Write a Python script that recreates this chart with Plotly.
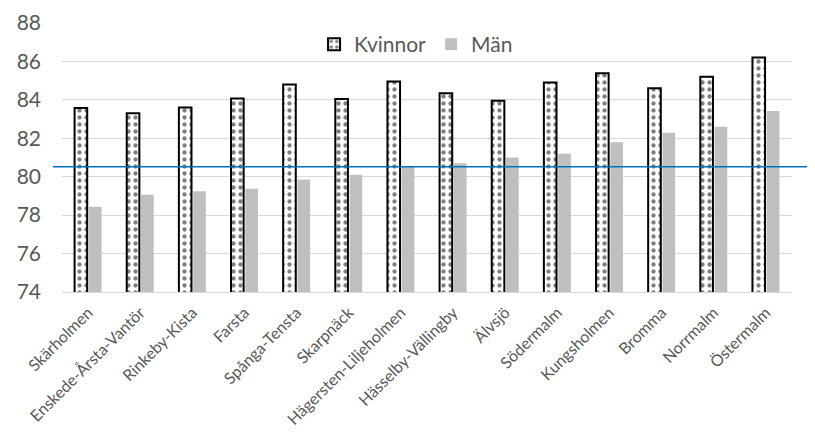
import plotly.graph_objects as go

categories = ["Skärholmen", "Enskede-Årsta-Vantör", "Rinkeby-Kista", "Farsta", "Spånga-Tensta",
              "Skarpnäck", "Hägersten-Liljeholmen", "Hässelby-Vällingby", "Älvsjö", "Södermalm",
              "Kungsholmen", "Bromma", "Norrmalm", "Östermalm"]
kvinnor = [83.58, 83.3, 83.6, 84.07, 84.8, 84.05, 84.95, 84.35, 83.95, 84.9, 85.38, 84.6, 85.2, 86.2]
man = [78.44, 79.06, 79.24, 79.38, 79.85, 80.1, 80.5, 80.7, 81.0, 81.2, 81.79, 82.29, 82.6, 83.42]
y_ticks = [74, 76, 78, 80, 82, 84, 86, 88]
ref_line = 80.52
y_min, y_max = 74, 88

font_family = "Lato, 'Open Sans', sans-serif"

fig = go.Figure()
fig.add_trace(go.Bar(
    name="Kvinnor", x=categories, y=kvinnor,
    marker=dict(color="white",
                line=dict(color="black", width=2),
                pattern=dict(shape=".", fgcolor="black", bgcolor="white", size=7, solidity=0.3)),
))
fig.add_trace(go.Bar(
    name="Män", x=categories, y=man,
    marker=dict(color="#bfbfbf", line=dict(width=0)),
))

ref_pos = (ref_line - y_min) / (y_max - y_min)
fig.add_shape(type="line", xref="paper", yref="paper",
              x0=-0.0125, x1=1.05, y0=ref_pos, y1=ref_pos,
              line=dict(color="#0070c0", width=1.5), layer="above")

fig.update_layout(
    width=807, height=426,
    margin=dict(l=54, r=23, t=15, b=142, autoexpand=False),
    paper_bgcolor="white", plot_bgcolor="white",
    barmode="group", bargap=0.45, bargroupgap=0.12,
    font=dict(family=font_family, color="#595959"),
    legend=dict(orientation="h", x=0.485, y=0.92, xanchor="center", yanchor="middle",
                font=dict(size=21, color="#595959"), bgcolor="rgba(0,0,0,0)",
                itemwidth=30, traceorder="normal"),
    xaxis=dict(tickangle=-45, tickfont=dict(size=16, color="#595959"), automargin=False,
               showline=True, linecolor="#d9d9d9", linewidth=1, ticks="", showgrid=False,
               ticklabelstandoff=4),
    yaxis=dict(range=[y_min, y_max], tickvals=y_ticks, tickfont=dict(size=21, color="#595959"),
               showgrid=True, gridcolor="#d9d9d9", gridwidth=1, zeroline=False, ticks="",
               ticklabelstandoff=20, automargin=False),
)

fig.write_html("out.html")
